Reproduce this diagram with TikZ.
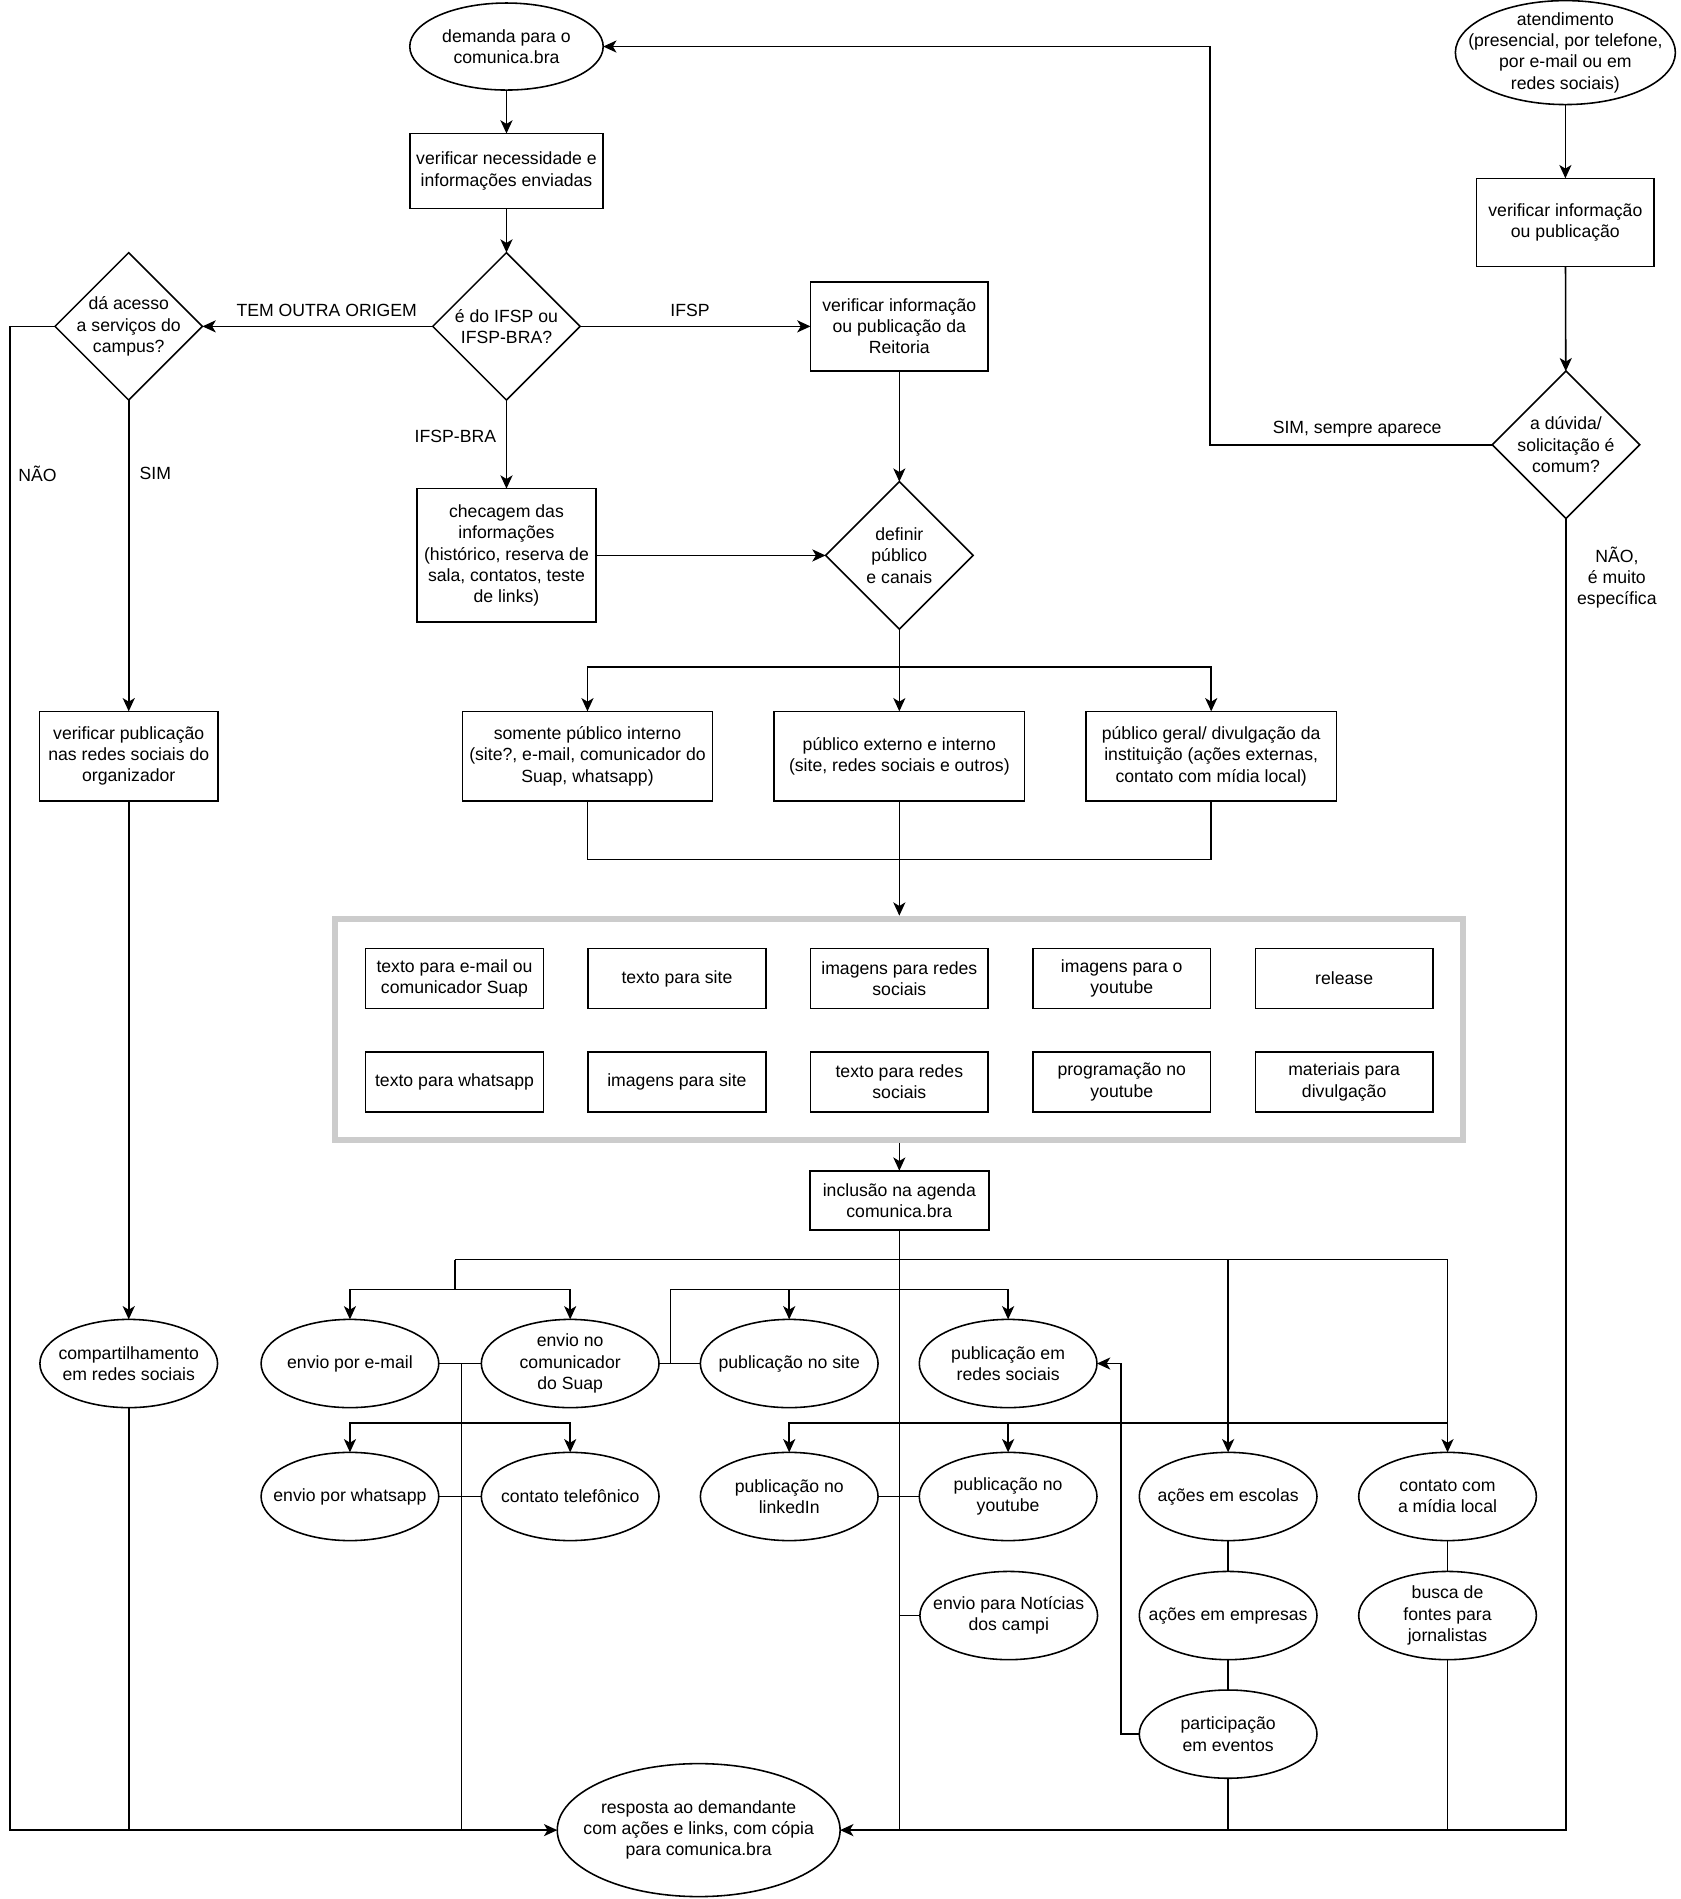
\documentclass[tikz,border=0pt]{standalone}
\usepackage{fontspec}
\setmainfont{Liberation Sans}
\usetikzlibrary{arrows.meta,shapes.geometric}
\definecolor{frameg}{RGB}{204,204,204}
\begin{document}
\begin{tikzpicture}[x=1pt,y=-1pt,
  every node/.style={font=\fontsize{14.6pt}{17.6pt}\selectfont},
  shp/.style={draw=black,line width=1.3pt,fill=white,inner sep=0pt,outer sep=0pt},
  box/.style={shp,rectangle,align=center,minimum width=147pt,minimum height=49pt},
  ell/.style={shp,ellipse,minimum width=147pt,minimum height=73pt},
  dia/.style={shp,diamond,minimum width=122pt,minimum height=122pt},
  tx/.style={align=center,inner sep=0pt},
  ln/.style={draw=black,line width=1.3pt},
  arr/.style={ln,-{Stealth[length=11pt,width=10pt,inset=3pt]}},
  framebox/.style={draw=frameg,line width=5pt,fill=none,outer sep=2.5pt,minimum width=933pt,minimum height=183pt,inner sep=0pt}
]
\fill[white] (0,0) rectangle (1390,1571);
\useasboundingbox (0,0) rectangle (1390,1571);

% ---------- nodes ----------
\node[ell,minimum width=160pt,minimum height=72pt,label={[tx]center:{demanda para o\\comunica.bra}}] (dem) at (419,38.5) {};
\node[ell,minimum width=182pt,minimum height=86pt,label={[tx]center:{atendimento\\(presencial, por telefone,\\por e-mail ou em\\redes sociais)}}] (aten) at (1295,43.5) {};
\node[box,minimum width=160pt,minimum height=62pt] (vnec) at (419,141.5) {verificar necessidade e\\informações enviadas};
\node[box,minimum height=73pt] (vinf) at (1295,184) {verificar informação\\ou publicação};
\node[dia,label={[tx]center:{é do IFSP ou\\IFSP-BRA?}}] (ifsp) at (419,270) {};
\node[dia,label={[tx]center:{dá acesso\\a serviços do\\campus?}}] (acesso) at (106.5,270) {};
\node[box,minimum height=73.5pt] (reit) at (744,270) {verificar informação\\ou publicação da\\Reitoria};
\node[dia,label={[tx]center:{a dúvida/\\solicitação é\\comum?}}] (duv) at (1295.5,368) {};
\node[box,minimum width=148pt,minimum height=110.5pt] (chec) at (419,459.5) {checagem das\\informações\\(histórico, reserva de\\sala, contatos, teste\\de links)};
\node[dia,label={[tx]center:{definir\\público\\e canais}}] (def) at (744,459.5) {};
\node[box,minimum width=207pt,minimum height=74pt] (pint) at (486,625.5) {somente público interno\\(site?, e-mail, comunicador do\\Suap, whatsapp)};
\node[box,minimum width=207pt,minimum height=74pt] (pext) at (744,625.5) {público externo e interno\\(site, redes sociais e outros)};
\node[box,minimum width=207pt,minimum height=74pt] (pger) at (1002,625.5) {público geral/ divulgação da\\instituição (ações externas,\\contato com mídia local)};
\node[box,minimum width=147.5pt,minimum height=74pt] (vpub) at (106.5,625.5) {verificar publicação\\nas redes sociais do\\organizador};

\node[framebox] (frame) at (744,851.5) {};
\node[box,minimum height=49.5pt] (f1) at (376,809.5) {texto para e-mail ou\\comunicador Suap};
\node[box,minimum height=49.5pt] (f2) at (560,809.5) {texto para site};
\node[box,minimum height=49.5pt] (f3) at (744,809.5) {imagens para redes\\sociais};
\node[box,minimum height=49.5pt] (f4) at (928,809.5) {imagens para o\\youtube};
\node[box,minimum height=49.5pt] (f5) at (1112,809.5) {release};
\node[box,minimum height=49.5pt] (f6) at (376,895) {texto para whatsapp};
\node[box,minimum height=49.5pt] (f7) at (560,895) {imagens para site};
\node[box,minimum height=49.5pt] (f8) at (744,895) {texto para redes\\sociais};
\node[box,minimum height=49.5pt] (f9) at (928,895) {programação no\\youtube};
\node[box,minimum height=49.5pt] (f10) at (1112,895) {materiais para\\divulgação};

\node[box,minimum width=148pt] (incl) at (744,993) {inclusão na agenda\\comunica.bra};

\node[ell,label={[tx]center:{compartilhamento\\em redes sociais}}] (comp) at (106.5,1128) {};
\node[ell,label={[tx]center:{envio por e-mail}}] (email) at (289.5,1128) {};
\node[ell,label={[tx]center:{envio no\\comunicador\\do Suap}}] (suap) at (471.7,1128) {};
\node[ell,label={[tx]center:{publicação no site}}] (site) at (652.9,1128) {};
\node[ell,label={[tx]center:{publicação em\\redes sociais}}] (redes) at (834,1128) {};

\node[ell,label={[tx]center:{envio por whatsapp}}] (wapp) at (289.5,1238) {};
\node[ell,label={[tx]center:{contato telefônico}}] (tel) at (471.7,1238) {};
\node[ell,label={[tx]center:{publicação no\\linkedIn}}] (lnk) at (652.9,1238) {};
\node[ell,label={[tx]center:{publicação no\\youtube}}] (yt) at (834,1238) {};
\node[ell,label={[tx]center:{ações em escolas}}] (esc) at (1016,1238) {};
\node[ell,label={[tx]center:{contato com\\a mídia local}}] (mid) at (1197.5,1238) {};

\node[ell,label={[tx]center:{envio para Notícias\\dos campi}}] (noti) at (834.5,1336.5) {};
\node[ell,label={[tx]center:{ações em empresas}}] (emp) at (1016,1336.5) {};
\node[ell,label={[tx]center:{busca de\\fontes para\\jornalistas}}] (busca) at (1197.5,1336.5) {};
\node[ell,label={[tx]center:{participação\\em eventos}}] (part) at (1016,1434.6) {};

\node[ell,minimum width=234pt,minimum height=110pt,label={[tx]center:{resposta ao demandante\\com ações e links, com cópia\\para comunica.bra}}] (resp) at (578,1514) {};

% ---------- edge labels ----------
\node[tx] (lTem) at (270.3,257) {TEM OUTRA ORIGEM};
\node[tx] (lIfsp) at (570.8,257) {IFSP};
\node[tx] (lBra) at (376.7,361.4) {IFSP-BRA};
\node[tx] (lNao) at (31,391.6) {NÃO};
\node[tx] (lSim) at (128.5,391.6) {SIM};
\node[tx] (lSemp) at (1122.7,355.3) {SIM, sempre aparece};
\node[tx] (lEsp) at (1337.6,478) {NÃO,\\é muito\\específica};

% ---------- junction coordinates ----------
\coordinate (nL) at (8.5,270);
\coordinate (sR) at (1000.8,368);
\coordinate (t1) at (744,551.6);
\coordinate (m1) at (744,711);
\coordinate (j376) at (376.4,1042);
\coordinate (j376b) at (376.4,1066.8);
\coordinate (k1197) at (1197.5,1042);
\coordinate (k1016) at (1016,1042);
\coordinate (g554) at (554.6,1066.8);
\coordinate (g554b) at (554.6,1128);
\coordinate (v381) at (381.7,1128);
\coordinate (h381) at (381.7,1177);
\coordinate (v381b) at (381.7,1514);
\coordinate (h1197) at (1197.5,1177);
\coordinate (b744) at (744,1514);
\coordinate (n744) at (744,1336.5);
\coordinate (p927) at (927.5,1434.6);
\coordinate (b106) at (106.5,1514);
\coordinate (b1016) at (1016,1514);
\coordinate (b1197) at (1197.5,1514);

% ---------- connectors ----------
\draw[arr] (dem) -- (vnec);
\draw[arr] (vnec) -- (ifsp);
\draw[arr] (ifsp) -- (acesso);
\draw[arr] (ifsp) -- (reit);
\draw[arr] (ifsp) -- (chec);
\draw[arr] (reit) -- (def);
\draw[arr] (chec.east) -- (def.west);
\draw[arr] (acesso) -- (vpub);
\draw[arr] (acesso.west) -- (nL) |- (resp.west);
\draw[arr] (aten) -- (vinf);
\draw[arr] (vinf) -- (duv);
\draw[arr] (duv.west) -- (sR) |- (dem.east);
\draw[arr] (duv.south) |- (resp.east);

\draw[ln] (def.south) -- (t1);
\draw[arr] (t1) -| (pint.north);
\draw[arr] (t1) -| (pger.north);
\draw[arr] (t1) -- (pext.north);
\draw[ln] (pint.south) |- (m1);
\draw[ln] (pger.south) |- (m1);
\draw[arr] (pext) -- (frame);
\draw[arr] (frame) -- (incl);

\draw[ln] (incl.south) -- (b744);
\draw[ln] (j376) -- (k1197);
\draw[arr] (k1197) -- (mid);
\draw[arr] (k1016) -- (esc);
\draw[ln] (j376) -- (j376b);
\draw[arr] (j376b) -| (email.north);
\draw[arr] (j376b) -| (suap.north);
\draw[ln] (suap.east) -- (site.west);
\draw[ln] (g554b) -- (g554);
\draw[arr] (g554) -| (site.north);
\draw[arr] (g554) -| (redes.north);
\draw[ln] (email.east) -- (suap.west);
\draw[ln] (v381) -- (v381b);
\draw[arr] (h381) -| (wapp.north);
\draw[arr] (h381) -| (tel.north);
\draw[ln] (wapp.east) -- (tel.west);
\draw[arr] (h1197) -| (lnk.north);
\draw[arr] (h1197) -| (yt.north);
\draw[ln] (lnk.east) -- (yt.west);
\draw[ln] (noti.west) -- (n744);
\draw[ln] (esc) -- (emp);
\draw[ln] (emp) -- (part);
\draw[arr] (part.west) -- (p927) |- (redes.east);
\draw[ln] (part.south) -- (b1016);
\draw[ln] (mid) -- (busca);
\draw[ln] (busca.south) -- (b1197);
\draw[arr] (vpub) -- (comp);
\draw[ln] (comp.south) -- (b106);
\end{tikzpicture}
\end{document}
